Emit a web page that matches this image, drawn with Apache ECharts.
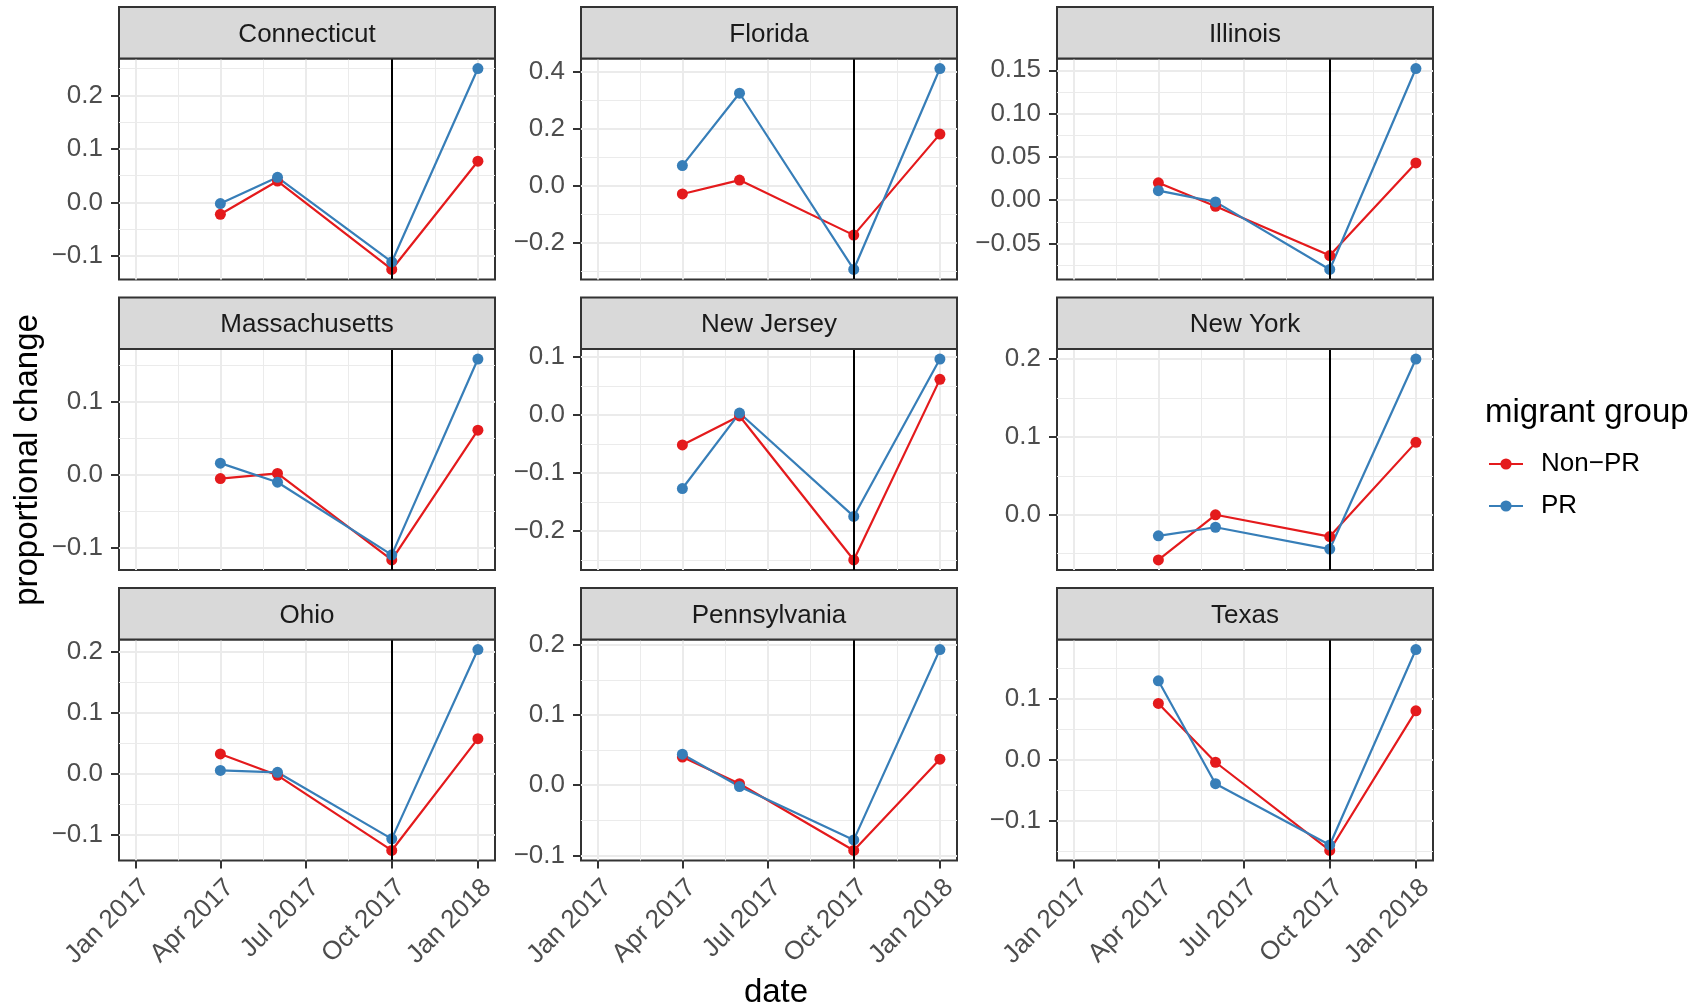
<!DOCTYPE html>
<html>
<head>
<meta charset="utf-8">
<title>Proportional change by migrant group</title>
<script src="https://cdn.jsdelivr.net/npm/echarts@6/dist/echarts.min.js"></script>
<style>
  html, body { margin: 0; padding: 0; background: #ffffff; }
  #chart { width: 1708px; height: 1006px; }
</style>
</head>
<body>
<div id="chart"></div>
<script>
// ---- data ----
const STATES = ['Connecticut', 'Florida', 'Illinois', 'Massachusetts', 'New Jersey',
                'New York', 'Ohio', 'Pennsylvania', 'Texas'];
const DATES = ['2017-04-01', '2017-06-01', '2017-10-01', '2018-01-01'];
const NON_PR = [
  [-0.022, 0.040, -0.125, 0.077],
  [-0.029, 0.020, -0.174, 0.182],
  [0.020, -0.007, -0.064, 0.043],
  [-0.005, 0.002, -0.116, 0.061],
  [-0.052, -0.002, -0.250, 0.061],
  [-0.058, 0.000, -0.028, 0.093],
  [0.032, -0.003, -0.126, 0.057],
  [0.040, 0.002, -0.093, 0.037],
  [0.092, -0.004, -0.148, 0.080]
];
const PR = [
  [-0.002, 0.047, -0.111, 0.250],
  [0.071, 0.326, -0.295, 0.413],
  [0.011, -0.002, -0.080, 0.152],
  [0.016, -0.010, -0.109, 0.158],
  [-0.127, 0.003, -0.175, 0.096],
  [-0.027, -0.016, -0.044, 0.200],
  [0.005, 0.002, -0.107, 0.203],
  [0.044, -0.002, -0.078, 0.193],
  [0.129, -0.039, -0.139, 0.180]
];
const Y_TICK_LABELS = [
  ['\u22120.1', '0.0', '0.1', '0.2'],
  ['\u22120.2', '0.0', '0.2', '0.4'],
  ['\u22120.05', '0.00', '0.05', '0.10', '0.15'],
  ['\u22120.1', '0.0', '0.1'],
  ['\u22120.2', '\u22120.1', '0.0', '0.1'],
  ['0.0', '0.1', '0.2'],
  ['\u22120.1', '0.0', '0.1', '0.2'],
  ['\u22120.1', '0.0', '0.1', '0.2'],
  ['\u22120.1', '0.0', '0.1']
];
const X_LIMITS = ['2017-01-01', '2018-01-01'];
const X_TICK_DATES = ['2017-01-01', '2017-04-01', '2017-07-01', '2017-10-01', '2018-01-01'];
const X_TICK_LABELS = ['Jan 2017', 'Apr 2017', 'Jul 2017', 'Oct 2017', 'Jan 2018'];
const EVENT_DATE = '2017-10-01';
const GROUPS = ['Non\u2212PR', 'PR'];
const GROUP_COLORS = ['#E41A1C', '#377EB8'];

// ---- layout ----
const FONT = '"Liberation Sans", Arial, Helvetica, sans-serif';
const COL_LEFT = [119, 581, 1057];
const PANEL_W = 376;
const STRIP_TOP = [7, 297.5, 588];
const STRIP_H = 51.5;
const PANEL_H = 221;
const GRID_MAJOR = '#EBEBEB';
const BORDER = '#333333';

// ---- helpers ----
// dates are handled as UTC millisecond timestamps on a linear axis
const ts = s => Date.parse(s + 'T00:00:00Z');
const parseTick = s => parseFloat(s.replace('\u2212', '-'));
const EXPAND = 0.05;

const xLo = ts(X_LIMITS[0]), xHi = ts(X_LIMITS[1]);
const xPad = EXPAND * (xHi - xLo);
const xMin = xLo - xPad, xMax = xHi + xPad;
const xMajor = X_TICK_DATES.map(ts);
const xMinor = [];
for (let k = 0; k + 1 < xMajor.length; k++) xMinor.push((xMajor[k] + xMajor[k + 1]) / 2);

function yLimits(i) {
  const all = NON_PR[i].concat(PR[i]);
  const lo = Math.min.apply(null, all), hi = Math.max.apply(null, all);
  const pad = EXPAND * (hi - lo);
  return [lo - pad, hi + pad];
}
function yMinorTicks(major, lim) {
  const step = major[1] - major[0];
  const out = [major[0] - step / 2];
  for (let k = 0; k + 1 < major.length; k++) out.push((major[k] + major[k + 1]) / 2);
  out.push(major[major.length - 1] + step / 2);
  return out.filter(v => v > lim[0] && v < lim[1]);
}

const grids = [], xAxes = [], yAxes = [], series = [], graphics = [];

STATES.forEach((state, i) => {
  const col = i % 3, row = Math.floor(i / 3);
  const left = COL_LEFT[col];
  const stripTop = STRIP_TOP[row];
  const top = stripTop + STRIP_H;
  const bottomRow = row === 2;

  grids.push({
    left: left, top: top, width: PANEL_W, height: PANEL_H,
    containLabel: false, outerBoundsMode: 'none',
    show: true, backgroundColor: '#ffffff', borderColor: BORDER, borderWidth: 2
  });

  // major x axis (ticks and labels only on the bottom row)
  xAxes.push({
    gridIndex: i, type: 'value', min: xMin, max: xMax, position: 'bottom',
    axisLine: { show: false, onZero: false },
    axisTick: { show: bottomRow, customValues: xMajor, length: 8, lineStyle: { color: BORDER, width: 2 } },
    axisLabel: {
      show: bottomRow, customValues: xMajor, rotate: 45, align: 'right', verticalAlign: 'top',
      margin: 14, color: '#4D4D4D', fontSize: 26, fontFamily: FONT,
      formatter: v => {
        const k = xMajor.findIndex(t => Math.abs(t - v) < 1000);
        return k >= 0 ? X_TICK_LABELS[k] : '';
      }
    },
    splitLine: { show: true, lineStyle: { color: GRID_MAJOR, width: 2 } }
  });
  // minor x grid
  xAxes.push({
    gridIndex: i, type: 'value', min: xMin, max: xMax, position: 'top',
    axisLine: { show: false, onZero: false },
    axisTick: { show: false, customValues: xMinor },
    axisLabel: { show: false, customValues: xMinor },
    splitLine: { show: true, lineStyle: { color: GRID_MAJOR, width: 1 } }
  });

  const lim = yLimits(i);
  const labels = Y_TICK_LABELS[i];
  const yMajor = labels.map(parseTick);
  const yMinor = yMinorTicks(yMajor, lim);

  yAxes.push({
    gridIndex: i, type: 'value', min: lim[0], max: lim[1], position: 'left',
    axisLine: { show: false, onZero: false },
    axisTick: { show: true, customValues: yMajor, length: 8, lineStyle: { color: BORDER, width: 2 } },
    axisLabel: {
      show: true, customValues: yMajor, margin: 16, color: '#4D4D4D', fontSize: 26, fontFamily: FONT,
      formatter: v => {
        const k = yMajor.findIndex(t => Math.abs(t - v) < 1e-9);
        return k >= 0 ? labels[k] : '';
      }
    },
    splitLine: { show: true, lineStyle: { color: GRID_MAJOR, width: 2 } }
  });
  yAxes.push({
    gridIndex: i, type: 'value', min: lim[0], max: lim[1], position: 'right',
    axisLine: { show: false, onZero: false },
    axisTick: { show: false, customValues: yMinor },
    axisLabel: { show: false, customValues: yMinor },
    splitLine: { show: true, lineStyle: { color: GRID_MAJOR, width: 1 } }
  });

  [NON_PR[i], PR[i]].forEach((vals, g) => {
    const s = {
      name: GROUPS[g], type: 'line', xAxisIndex: 2 * i, yAxisIndex: 2 * i,
      data: DATES.map((d, k) => [ts(d), vals[k]]),
      symbol: 'circle', symbolSize: 11, showSymbol: true,
      lineStyle: { color: GROUP_COLORS[g], width: 2.2 },
      itemStyle: { color: GROUP_COLORS[g] },
      emphasis: { disabled: true }, silent: true
    };
    if (g === 1) {
      s.markLine = {
        silent: true, symbol: 'none', animation: false,
        label: { show: false },
        lineStyle: { color: '#000000', width: 2, type: 'solid' },
        data: [{ xAxis: ts(EVENT_DATE) }]
      };
    }
    series.push(s);
  });

  // facet strip
  graphics.push({
    type: 'rect', shape: { x: left, y: stripTop, width: PANEL_W, height: STRIP_H },
    style: { fill: '#D9D9D9', stroke: BORDER, lineWidth: 2 }, z: 10
  });
  graphics.push({
    type: 'text', x: left + PANEL_W / 2, y: stripTop + STRIP_H / 2 + 2, z: 11,
    style: { text: state, fill: '#1A1A1A', font: '26px ' + FONT, align: 'center', verticalAlign: 'middle' }
  });
});

// axis titles and legend title
graphics.push({
  type: 'text', x: 28, y: 460, rotation: Math.PI / 2, z: 11,
  style: { text: 'proportional change', fill: '#000000', font: '33px ' + FONT, align: 'center', verticalAlign: 'middle' }
});
graphics.push({
  type: 'text', x: (COL_LEFT[0] + COL_LEFT[2] + PANEL_W) / 2, y: 993, z: 11,
  style: { text: 'date', fill: '#000000', font: '33px ' + FONT, align: 'center', verticalAlign: 'middle' }
});
graphics.push({
  type: 'text', x: 1485, y: 413, z: 11,
  style: { text: 'migrant group', fill: '#000000', font: '33px ' + FONT, align: 'left', verticalAlign: 'middle' }
});

const chart = echarts.init(document.getElementById('chart'), null, { renderer: 'canvas' });
chart.setOption({
  animation: false,
  backgroundColor: '#ffffff',
  textStyle: { fontFamily: FONT },
  grid: grids,
  xAxis: xAxes,
  yAxis: yAxes,
  series: series,
  legend: {
    data: GROUPS, orient: 'vertical', left: 1488, top: 451, padding: 0,
    itemWidth: 34, itemHeight: 14, itemGap: 16, selectedMode: false,
    textStyle: { fontSize: 26, fontFamily: FONT, color: '#000000', padding: [0, 0, 0, 13] }
  },
  graphic: graphics
});
</script>
</body>
</html>
